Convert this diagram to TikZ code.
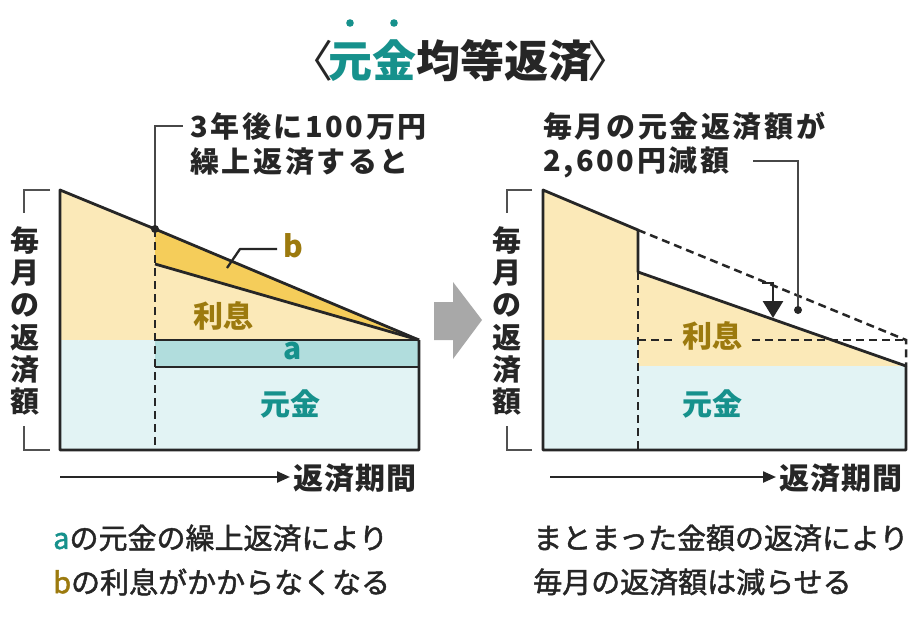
\documentclass[tikz,border=0pt]{standalone}
\usepackage{fontspec}
\setmainfont{Noto Sans CJK JP}
\usetikzlibrary{arrows.meta}
\definecolor{ink}{HTML}{262626}
\definecolor{yelL}{HTML}{FBE9B8}
\definecolor{yelD}{HTML}{F5CD5A}
\definecolor{bluL}{HTML}{E2F3F4}
\definecolor{bluB}{HTML}{B1DDDD}
\definecolor{tealT}{HTML}{16918C}
\definecolor{goldT}{HTML}{9C7A0E}
\definecolor{grayA}{HTML}{A8A8A8}
\tikzset{
  chartline/.style={draw=ink, line width=2.8pt, line join=round},
  dashline/.style={draw=ink, line width=2.5pt, dash pattern=on 8pt off 5pt},
  leader/.style={draw=ink!85, line width=1.7pt},
  bracketline/.style={draw=ink!80, line width=1.7pt},
  headtxt/.style={inner sep=0, anchor=west, font=\fontsize{29}{32}\selectfont\bfseries\addfontfeature{LetterSpace=9}, text=ink},
  bodytxt/.style={inner sep=0, anchor=west, font=\fontsize{29}{32}\selectfont\addfontfeature{FakeBold=1.6}, text=ink},
  axistxt/.style={inner sep=0, anchor=west, font=\fontsize{30}{32}\selectfont\bfseries\addfontfeature{LetterSpace=4}, text=ink},
  vlabel/.style={inner sep=0, align=center, font=\fontsize{29}{32.3}\selectfont\bfseries, text=ink},
  inlbl/.style={inner sep=0, font=\fontsize{30}{32}\selectfont\bfseries},
  axisarrow/.style={draw=ink, line width=2.3pt, -{Triangle[length=13pt,width=11pt]}},
}
\begin{document}
\begin{tikzpicture}[x=1pt,y=-1pt]
\useasboundingbox (0,0) rectangle (920,616);
\fill[white] (0,0) rectangle (920,616);

% ---------- title ----------
\node[inner sep=0, font=\fontsize{44}{46}\selectfont\bfseries, text=ink] (title) at (460,61)
  {{\mdseries 〈}\kern-5pt\textcolor{tealT}{元金}均等返済\kern-5pt{\mdseries 〉}};
\coordinate (dot1) at (350,23);
\coordinate (dot2) at (394,23);
\fill[tealT] (dot1) circle (3.8pt);
\fill[tealT] (dot2) circle (3.8pt);

% ---------- left chart ----------
\coordinate (A0) at (60,190);
\coordinate (AD) at (155,229);
\coordinate (AE) at (419,340);
\coordinate (AB) at (155,264);
\coordinate (AM) at (155,340);
\coordinate (AN) at (155,367);
\coordinate (AK) at (419,367);
\coordinate (AL) at (60,340);
\coordinate (AF) at (60,450);
\coordinate (AG) at (155,450);
\coordinate (AH) at (419,450);

\fill[yelL] (A0) -- (AD) -- (AM) -- (AL) -- cycle;
\fill[yelL] (AB) -- (AE) -- (AM) -- cycle;
\fill[yelD] (AD) -- (AE) -- (AB) -- cycle;
\fill[bluL] (AL) -- (AM) -- (AG) -- (AF) -- cycle;
\fill[bluB] (AM) -- (AE) -- (AK) -- (AN) -- cycle;
\fill[bluL] (AN) -- (AK) -- (AH) -- (AG) -- cycle;

\draw[chartline] (AE) -- (AH) -- (AF) -- (A0) -- (AD) -- (AE);
\draw[chartline] (AB) -- (AE);
\draw[chartline] (AM) -- (AE);
\draw[chartline] (AN) -- (AK);
\draw[dashline] (AD) -- (AG);

% leader to annotation
\coordinate (AT) at (155,126);
\coordinate (AU) at (183,126);
\draw[leader] (AD) -- (AT) -- (AU);
\fill[ink] (AD) circle (4pt);
\node[headtxt] (ann1) at (190,126) {3年後に100万円};
\node[headtxt] (ann2) at (190,162) {繰上返済すると};

% b leader
\coordinate (BL0) at (227,268);
\coordinate (BL1) at (240,249);
\coordinate (BL2) at (277,249);
\draw[chartline, line width=2.3pt] (BL0) -- (BL1) -- (BL2);
\node[inlbl, text=goldT] (blab) at (293,246) {b};
\node[inlbl, text=goldT] (ri1) at (223,316) {利息};
\node[inlbl, text=tealT] (alab) at (293,351) {a};
\node[inlbl, text=tealT] (gk1) at (290,404) {元金};

% bracket + vertical label
\draw[bracketline] (50,190) -- (24,190) -- (24,213);
\draw[bracketline] (24,426) -- (24,450) -- (50,450);
\node[vlabel] (vl1) at (25,321) {毎\\月\\の\\返\\済\\額};

% axis
\coordinate (X1a) at (60,477);
\coordinate (X1b) at (290,477);
\draw[axisarrow] (X1a) -- (X1b);
\node[axistxt] (ax1) at (293,478) {返済期間};

\node[bodytxt] (bt1) at (53,538) {\textcolor{tealT}{a}の元金の繰上返済により};
\node[bodytxt] (bt2) at (53,582) {\textcolor{goldT}{b}の利息がかからなくなる};

% ---------- gray arrow ----------
\fill[grayA] (434,302) -- (453,302) -- (453,282) -- (482,320) -- (453,359) -- (453,340) -- (434,340) -- cycle;

% ---------- right chart ----------
\coordinate (B0) at (543,190);
\coordinate (BP) at (638,230);
\coordinate (BQ) at (906,340);
\coordinate (BS) at (638,272);
\coordinate (BT) at (906,366);
\coordinate (BM) at (638,340);
\coordinate (BL) at (543,340);
\coordinate (BN) at (638,366);
\coordinate (BF) at (543,450);
\coordinate (BG) at (638,450);
\coordinate (BH) at (906,450);
\coordinate (BX1) at (672,340);
\coordinate (BX2) at (752,340);

\fill[yelL] (B0) -- (BP) -- (BM) -- (BL) -- cycle;
\fill[bluL] (BL) -- (BM) -- (BG) -- (BF) -- cycle;
\fill[yelL] (BS) -- (BT) -- (BN) -- cycle;
\fill[bluL] (BN) -- (BT) -- (BH) -- (BG) -- cycle;

\draw[dashline] (BP) -- (BQ) -- (BT);
\draw[dashline] (BM) -- (BX1);
\draw[dashline] (BX2) -- (BQ);
\draw[dashline] (BS) -- (BG);
\draw[chartline] (BT) -- (BH) -- (BF) -- (B0) -- (BP) -- (BS) -- (BT);

% down arrow
\coordinate (DA0) at (762,283);
\coordinate (DA1) at (773,283);
\coordinate (DA2) at (773,318);
\draw[draw=ink, line width=2.8pt, -{Triangle[length=17pt,width=20pt]}] (DA0) -- (DA1) -- (DA2);

% leader
\coordinate (RD) at (798,310);
\coordinate (RT) at (798,161);
\coordinate (RU) at (753,161);
\draw[leader] (RD) -- (RT) -- (RU);
\fill[ink] (RD) circle (4pt);
\node[headtxt] (ann3) at (543,126) {毎月の元金返済額が};
\node[headtxt] (ann4) at (543,162) {2,600円減額};

\node[inlbl, text=goldT] (ri2) at (712,336) {利息};
\node[inlbl, text=tealT] (gk2) at (712,404) {元金};

\draw[bracketline] (532,190) -- (507,190) -- (507,213);
\draw[bracketline] (507,426) -- (507,450) -- (532,450);
\node[vlabel] (vl2) at (507,321) {毎\\月\\の\\返\\済\\額};

\coordinate (X2a) at (550,477);
\coordinate (X2b) at (776,477);
\draw[axisarrow] (X2a) -- (X2b);
\node[axistxt] (ax2) at (779,478) {返済期間};

\node[bodytxt] (bt3) at (533,538) {まとまった金額の返済により};
\node[bodytxt] (bt4) at (533,582) {毎月の返済額は減らせる};
\end{tikzpicture}
\end{document}
